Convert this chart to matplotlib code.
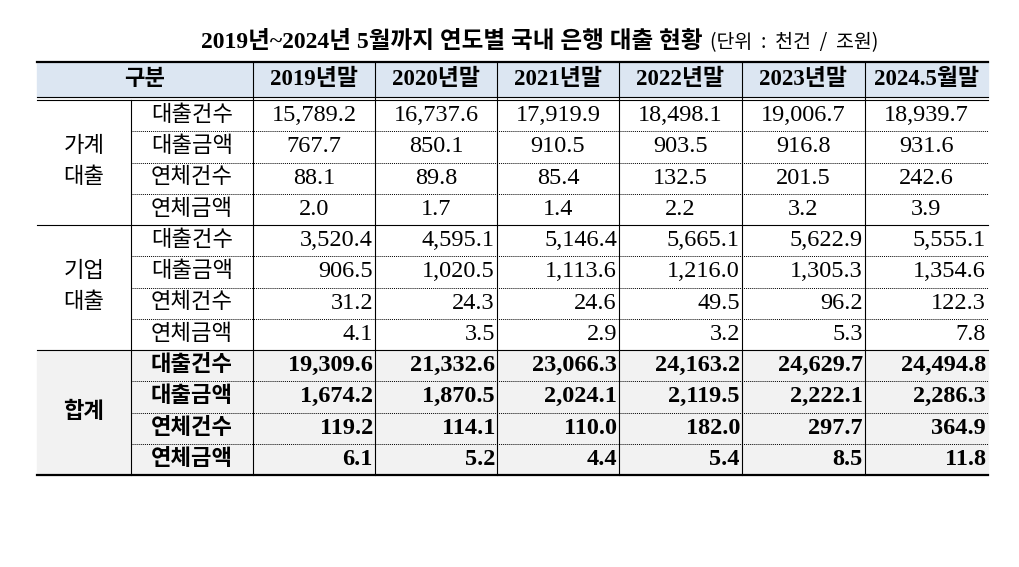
import matplotlib
matplotlib.use("Agg")
import matplotlib.pyplot as plt
from matplotlib.patches import Rectangle

plt.rcParams["font.family"] = ["Liberation Serif", "Noto Sans CJK KR", "DejaVu Sans"]

title = "2019년~2024년 5월까지 연도별 국내 은행 대출 현황"
unit = "(단위  :  천건  /  조원)"
years = ["2019년말", "2020년말", "2021년말", "2022년말", "2023년말", "2024.5월말"]
groups = ["가계\n대출", "기업\n대출", "합계"]
items = ["대출건수", "대출금액", "연체건수", "연체금액"]

household = [
    ["15,789.2", "16,737.6", "17,919.9", "18,498.1", "19,006.7", "18,939.7"],
    ["767.7", "850.1", "910.5", "903.5", "916.8", "931.6"],
    ["88.1", "89.8", "85.4", "132.5", "201.5", "242.6"],
    ["2.0", "1.7", "1.4", "2.2", "3.2", "3.9"],
]
corporate = [
    ["3,520.4", "4,595.1", "5,146.4", "5,665.1", "5,622.9", "5,555.1"],
    ["906.5", "1,020.5", "1,113.6", "1,216.0", "1,305.3", "1,354.6"],
    ["31.2", "24.3", "24.6", "49.5", "96.2", "122.3"],
    ["4.1", "3.5", "2.9", "3.2", "5.3", "7.8"],
]
total = [
    ["19,309.6", "21,332.6", "23,066.3", "24,163.2", "24,629.7", "24,494.8"],
    ["1,674.2", "1,870.5", "2,024.1", "2,119.5", "2,222.1", "2,286.3"],
    ["119.2", "114.1", "110.0", "182.0", "297.7", "364.9"],
    ["6.1", "5.2", "4.4", "5.4", "8.5", "11.8"],
]

W, H = 1020, 567
fig = plt.figure(figsize=(W / 100, H / 100), dpi=100)
ax = fig.add_axes([0, 0, 1, 1])
ax.set_xlim(0, W)
ax.set_ylim(H, 0)
ax.axis("off")

xs = [37, 131, 253, 375, 497, 619, 742, 865, 988]
hdr_top, hdr_bot = 62, 97
sec_tops = [100, 225, 350]
sec_h = 125
row_h = sec_h / 4

ax.text(703, 42, title, ha="right", va="center", fontsize=17, fontweight="bold")
ax.text(710, 43, unit, ha="left", va="center", fontsize=14, family=["Noto Sans CJK KR"])

# fills
ax.add_patch(Rectangle((xs[0], hdr_top), xs[-1] - xs[0], hdr_bot - hdr_top, color="#dce6f2", zorder=0))
ax.add_patch(Rectangle((xs[0], sec_tops[2]), xs[-1] - xs[0], sec_h, color="#f2f2f2", zorder=0))
ax.text((xs[0] + xs[2]) / 2, (hdr_top + hdr_bot) / 2, "구분", ha="center", va="center", fontsize=16, fontweight="bold")
for i, y in enumerate(years):
    ax.text((xs[i + 2] + xs[i + 3]) / 2, (hdr_top + hdr_bot) / 2, y, ha="center", va="center",
            fontsize=16.5, fontweight="bold")

# horizontal lines
ax.plot([xs[0], xs[-1]], [hdr_top, hdr_top], color="black", lw=1.6)
ax.plot([xs[0], xs[-1]], [hdr_bot, hdr_bot], color="black", lw=0.8)
ax.plot([xs[0], xs[-1]], [hdr_bot + 3, hdr_bot + 3], color="black", lw=0.8)
for t in sec_tops[1:]:
    ax.plot([xs[0], xs[-1]], [t, t], color="black", lw=0.8)
ax.plot([xs[0], xs[-1]], [sec_tops[2] + sec_h, sec_tops[2] + sec_h], color="black", lw=1.6)
for t in sec_tops:
    for r in range(1, 4):
        yy = t + r * row_h
        ax.plot([xs[1], xs[-1]], [yy, yy], color="black", lw=0.7, ls=(0, (1, 1)))

# vertical lines
for x in xs[2:-1]:
    ax.plot([x, x], [hdr_top, sec_tops[2] + sec_h], color="black", lw=0.8)
ax.plot([xs[1], xs[1]], [hdr_bot + 3, sec_tops[2] + sec_h], color="black", lw=0.8)

# body
for s, (g, data) in enumerate(zip(groups, [household, corporate, total])):
    top = sec_tops[s]
    bold = "bold" if s == 2 else "normal"
    ax.text((xs[0] + xs[1]) / 2, top + sec_h / 2, g, ha="center", va="center", fontsize=16,
            fontweight=bold, linespacing=1.7)
    for r, item in enumerate(items):
        yc = top + (r + 0.5) * row_h
        ax.text((xs[1] + xs[2]) / 2, yc, item, ha="center", va="center", fontsize=16, fontweight=bold)
        for c, v in enumerate(data[r]):
            if s == 0:
                ax.text((xs[c + 2] + xs[c + 3]) / 2, yc, v, ha="center", va="center", fontsize=17.5)
            else:
                ax.text(xs[c + 3] - 2, yc, v, ha="right", va="center", fontsize=17.5, fontweight=bold)

fig.savefig("out.png", dpi=100)
